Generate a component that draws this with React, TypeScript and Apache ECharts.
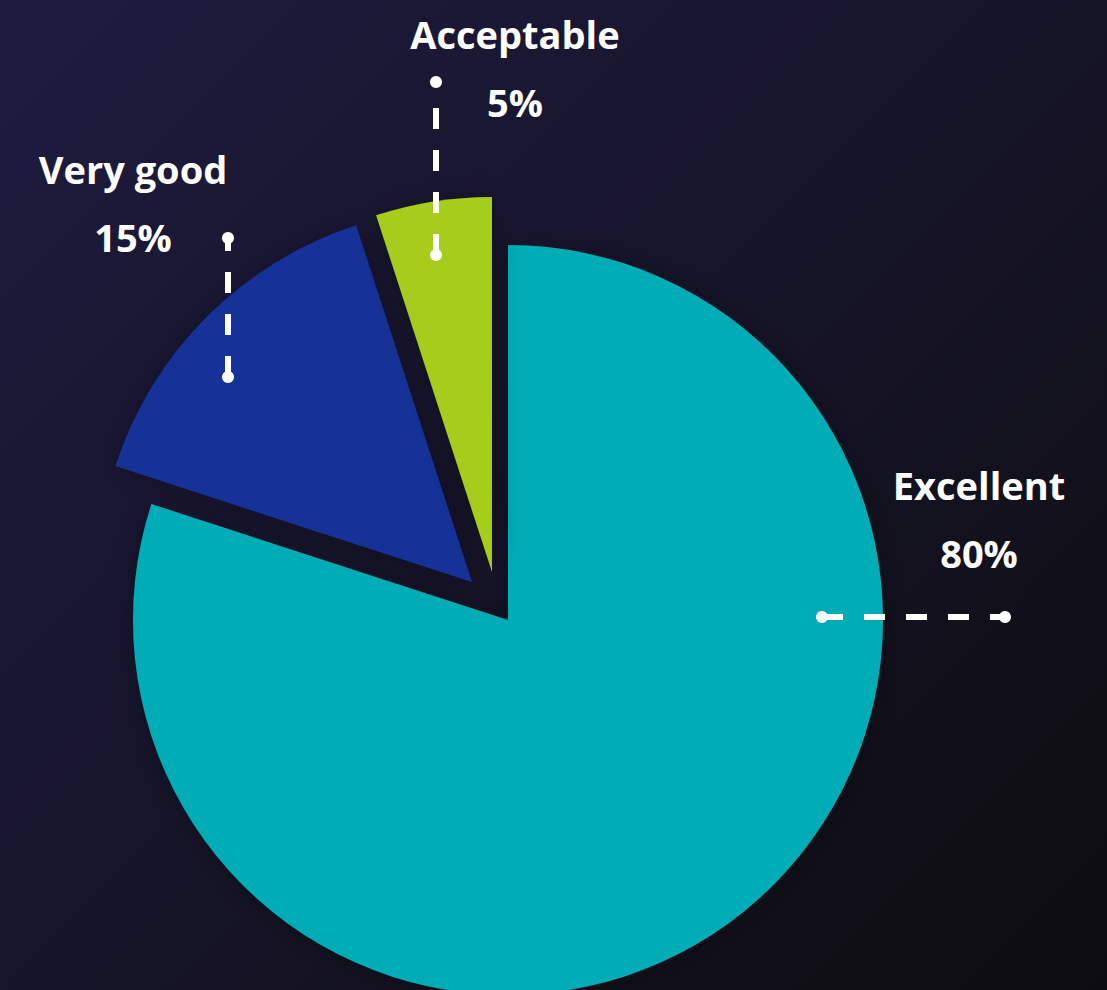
import React, { useEffect, useRef } from "react";
import * as echarts from "echarts";

// ---- data ----
const categories = ["Excellent", "Very good", "Acceptable"];
const shares = [80, 15, 5];
const sliceColors = ["#00adb6", "#123398", "#a7cd1f"];

// ---- layout (pixels) ----
const sliceCenters: [number, number][] = [
  [508, 620],
  [472, 582],
  [492, 572],
];
const pieRadius = 375;
const labelCenters: [number, number][] = [
  [979, 519],
  [133, 203],
  [515, 68],
];
// guide lines: [inner point, outer point]
const guideLines: [number, number, number, number][] = [
  [822, 617, 1005, 617],
  [228, 377, 228, 238],
  [436, 255, 436, 82],
];

const FONT = "'Open Sans', 'Noto Sans', sans-serif";

export default function App() {
  const ref = useRef<HTMLDivElement>(null);

  useEffect(() => {
    document.body.style.margin = "0";
    const chart = echarts.init(ref.current as HTMLDivElement, null, { renderer: "svg" });
    const total = shares.reduce((a, b) => a + b, 0);

    const series = categories.map((name, i) => {
      const before = shares.slice(0, i).reduce((a, b) => a + b, 0);
      const after = total - before - shares[i];
      const placeholder = (v: number) => ({
        value: v,
        name: "",
        itemStyle: { color: "rgba(0,0,0,0)", shadowBlur: 0, shadowColor: "rgba(0,0,0,0)" },
        label: { show: false },
        labelLine: { show: false },
      });
      const data: any[] = [];
      if (before > 0) data.push(placeholder(before));
      data.push({
        value: shares[i],
        name,
        itemStyle: { color: sliceColors[i] },
        label: { show: true },
      });
      if (after > 0) data.push(placeholder(after));
      return {
        type: "pie",
        center: sliceCenters[i],
        radius: [0, pieRadius],
        startAngle: 90,
        clockwise: true,
        silent: true,
        avoidLabelOverlap: false,
        itemStyle: {
          shadowBlur: 30,
          shadowColor: "rgba(0,0,0,0.35)",
          borderWidth: 0,
        },
        label: {
          show: false,
          formatter: (p: any) => `{n|${p.name}}\n{p|${p.value}%}`,
          rich: {
            n: { fontSize: 38, fontWeight: 700, color: "#ffffff", fontFamily: FONT, lineHeight: 68, align: "center" },
            p: { fontSize: 38, fontWeight: 700, color: "#ffffff", fontFamily: FONT, lineHeight: 68, align: "center" },
          },
        },
        labelLine: { show: false },
        labelLayout: () => ({
          x: labelCenters[i][0],
          y: labelCenters[i][1],
          align: "center",
          verticalAlign: "middle",
        }),
        emphasis: { disabled: true },
        data,
      };
    });

    const graphics: any[] = [];
    guideLines.forEach(([x1, y1, x2, y2]) => {
      graphics.push({
        type: "line",
        shape: { x1, y1, x2, y2 },
        style: { stroke: "#ffffff", lineWidth: 6, lineDash: [21, 21], lineCap: "butt" },
        z: 100,
      });
      graphics.push({ type: "circle", shape: { cx: x1, cy: y1, r: 6 }, style: { fill: "#ffffff" }, z: 100 });
      graphics.push({ type: "circle", shape: { cx: x2, cy: y2, r: 6 }, style: { fill: "#ffffff" }, z: 100 });
    });

    chart.setOption({
      animation: false,
      backgroundColor: "transparent",
      series,
      graphic: graphics,
    });
    return () => chart.dispose();
  }, []);

  return (
    <div
      ref={ref}
      style={{
        width: 1107,
        height: 990,
        background: "linear-gradient(135deg, #1f1b3f 0%, #17152b 45%, #0d0d0f 100%)",
      }}
    />
  );
}
